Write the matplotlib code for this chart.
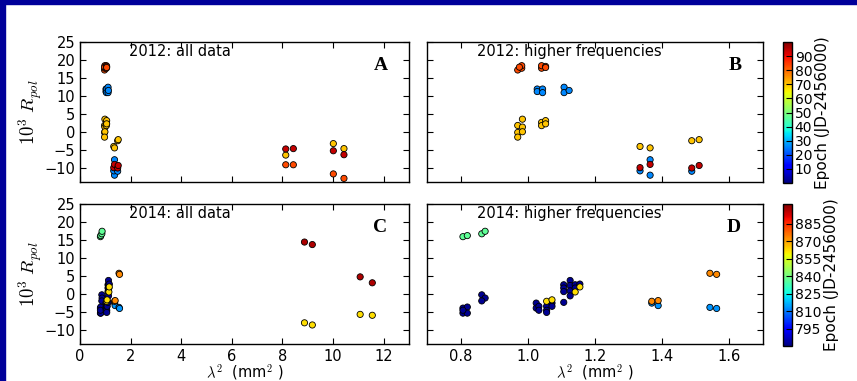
import numpy as np
import matplotlib
matplotlib.use("Agg")
from matplotlib import pyplot as plt
from matplotlib.colors import Normalize
from matplotlib.cm import ScalarMappable
from matplotlib.patches import Rectangle

# 2012, higher frequencies (lambda^2 in mm^2, 10^3 R_pol, epoch JD-2456000)
hf2012_lam2 = [0.970, 0.982, 0.982, 0.975, 1.041, 1.041, 1.053, 1.053,
               1.028, 1.028, 1.044, 1.044, 1.108, 1.108, 1.123,
               0.984, 0.970, 0.984, 0.970, 0.984, 0.970, 1.041, 1.041, 1.053, 1.053,
               1.334, 1.364, 1.364, 1.364, 1.334, 1.334, 1.364,
               1.488, 1.510, 1.488, 1.488, 1.510]
hf2012_rpol = [17.2, 17.7, 18.4, 18.0, 17.7, 18.4, 18.2, 17.9,
               11.9, 11.2, 11.9, 10.9, 12.4, 10.9, 11.5,
               3.5, 1.75, 1.3, -0.2, 0.0, -1.5, 2.6, 1.7, 3.1, 2.2,
               -4.1, -4.5, -7.8, -12.1, -10.9, -10.0, -9.1,
               -2.5, -2.2, -11.0, -10.1, -9.4]
hf2012_epoch = [83, 83, 83, 83, 83, 83, 83, 83,
                26, 26, 26, 26, 26, 26, 26,
                70, 70, 70, 70, 70, 70, 70, 70, 70, 70,
                70, 70, 26, 26, 26, 94, 94,
                70, 70, 26, 94, 94]

# 2012, lower frequencies
lf2012_lam2 = [8.13, 8.43, 8.13, 8.13, 8.43, 10.01, 10.01, 10.01, 10.43, 10.43, 10.43]
lf2012_rpol = [-4.8, -4.7, -6.5, -9.2, -9.2, -3.3, -5.3, -11.75, -4.7, -6.4, -13.0]
lf2012_epoch = [94, 94, 70, 83, 83, 70, 94, 83, 70, 94, 83]

# 2014, higher frequencies
hf2014_lam2 = [0.807, 0.820, 0.863, 0.873,
               0.807, 0.820, 0.807, 0.820, 0.807, 0.863, 0.873, 0.863,
               1.025, 1.025, 1.033, 1.033, 1.056, 1.056, 1.056, 1.072, 1.072,
               1.056, 1.072,
               1.107, 1.107, 1.107, 1.107, 1.126, 1.126, 1.126, 1.126, 1.141, 1.141, 1.155,
               1.141, 1.155,
               1.369, 1.388, 1.542, 1.562,
               1.369, 1.388, 1.542, 1.562]
hf2014_rpol = [15.9, 16.2, 16.7, 17.4,
               -4.0, -3.7, -5.4, -5.4, -4.6, -0.3, -1.2, -2.0,
               -2.6, -4.0, -3.5, -4.6, -3.5, -4.6, -5.2, -2.6, -3.5,
               -2.1, -1.7,
               -2.4, 2.5, 1.6, 0.6, 3.7, 2.3, 0.8, -0.6, 2.5, 1.6, 2.7,
               0.5, 1.9,
               -2.1, -1.9, 5.7, 5.4,
               -2.6, -3.3, -3.8, -4.1]
hf2014_epoch = [837, 837, 837, 837,
                782, 782, 782, 782, 782, 782, 782, 782,
                782, 782, 782, 782, 782, 782, 782, 782, 782,
                862, 862,
                782, 782, 782, 782, 782, 782, 782, 782, 782, 782, 782,
                862, 862,
                873, 873, 873, 873,
                813, 813, 813, 813]

# 2014, lower frequencies
lf2014_lam2 = [8.87, 9.18, 8.87, 9.18, 11.07, 11.55, 11.07, 11.55]
lf2014_rpol = [14.4, 13.7, -8.1, -8.7, 4.7, 3.05, -5.75, -6.0]
lf2014_epoch = [897, 897, 862, 862, 897, 897, 862, 862]

r_ticks = [-10, -5, 0, 5, 10, 15, 20, 25]
cbar2012_ticks = [10, 20, 30, 40, 50, 60, 70, 80, 90]
cbar2014_ticks = [795, 810, 825, 840, 855, 870, 885]

plt.rcParams.update({
    "font.family": "DejaVu Sans",
    "font.size": 10.5,
    "mathtext.fontset": "cm",
    "xtick.direction": "in",
    "ytick.direction": "in",
    "xtick.top": True,
    "ytick.right": True,
    "xtick.major.size": 4,
    "ytick.major.size": 4,
    "axes.linewidth": 1.0,
})

W, H = 857, 381


def box(left, top, right, bottom):
    return [left / W, 1 - bottom / H, (right - left) / W, (bottom - top) / H]


def draw_panel(ax, lam2, rpol, epoch, norm):
    lam2 = np.asarray(lam2, dtype=float)
    rpol = np.asarray(rpol, dtype=float)
    epoch = np.asarray(epoch, dtype=float)
    order = np.argsort(epoch, kind="stable")
    ax.scatter(lam2[order], rpol[order], c=epoch[order], cmap="jet", norm=norm,
               s=20, edgecolors="black", linewidths=0.6, zorder=3)
    ax.set_ylim(-14, 25)
    ax.set_yticks(r_ticks)


def add_labels(ax, title, letter):
    ax.text(0.15, 0.985, title, transform=ax.transAxes, ha="left", va="top", fontsize=10.5)
    ax.text(0.935, 0.83, letter, transform=ax.transAxes, ha="right", va="center",
            fontsize=14, fontweight="bold", family="Liberation Serif")


fig = plt.figure(figsize=(W / 100, H / 100), dpi=100)
norm2012 = Normalize(vmin=0, vmax=100)
norm2014 = Normalize(vmin=780, vmax=902)

ax_a = fig.add_axes(box(80, 42, 409, 182))
ax_b = fig.add_axes(box(427, 42, 763, 182))
ax_c = fig.add_axes(box(80, 204, 409, 344))
ax_d = fig.add_axes(box(427, 204, 763, 344))

draw_panel(ax_a, hf2012_lam2 + lf2012_lam2, hf2012_rpol + lf2012_rpol,
           hf2012_epoch + lf2012_epoch, norm2012)
draw_panel(ax_b, hf2012_lam2, hf2012_rpol, hf2012_epoch, norm2012)
draw_panel(ax_c, hf2014_lam2 + lf2014_lam2, hf2014_rpol + lf2014_rpol,
           hf2014_epoch + lf2014_epoch, norm2014)
draw_panel(ax_d, hf2014_lam2, hf2014_rpol, hf2014_epoch, norm2014)

for ax in (ax_a, ax_c):
    ax.set_xlim(0, 13)
    ax.set_xticks([0, 2, 4, 6, 8, 10, 12])
    ax.set_ylabel(r"$10^3\ R_{pol}$", fontsize=13.5, labelpad=0)
for ax in (ax_b, ax_d):
    ax.set_xlim(0.7, 1.7)
    ax.set_xticks([0.8, 1.0, 1.2, 1.4, 1.6])
    ax.tick_params(labelleft=False)
for ax in (ax_a, ax_b):
    ax.tick_params(labelbottom=False)
for ax in (ax_c, ax_d):
    ax.set_xlabel(r"$\lambda^2$  (mm$^2$ )", fontsize=10.5, labelpad=-1)

add_labels(ax_a, "2012: all data", "A")
add_labels(ax_b, "2012: higher frequencies", "B")
add_labels(ax_c, "2014: all data", "C")
add_labels(ax_d, "2014: higher frequencies", "D")

# colour bars for the epoch scale
cax1 = fig.add_axes(box(783, 42, 792, 183))
cb1 = fig.colorbar(ScalarMappable(norm=norm2012, cmap="jet"), cax=cax1, ticks=cbar2012_ticks)
cax2 = fig.add_axes(box(783, 204, 792, 346))
cb2 = fig.colorbar(ScalarMappable(norm=norm2014, cmap="jet"), cax=cax2, ticks=cbar2014_ticks)
for cb in (cb1, cb2):
    cb.set_label("Epoch (JD-2456000)", fontsize=11, labelpad=2)
    cb.ax.tick_params(labelsize=10, direction="in", length=4, pad=2)
    cb.outline.set_linewidth(1.0)

# dark blue frame at the left and top edges
frame_color = "#00009a"
fig.patches.append(Rectangle((0, 0), 5 / W, 1, transform=fig.transFigure,
                             color=frame_color, zorder=10))
fig.patches.append(Rectangle((0, 1 - 4 / H), 1, 4 / H, transform=fig.transFigure,
                             color=frame_color, zorder=10))

fig.savefig("out.png", dpi=100)
